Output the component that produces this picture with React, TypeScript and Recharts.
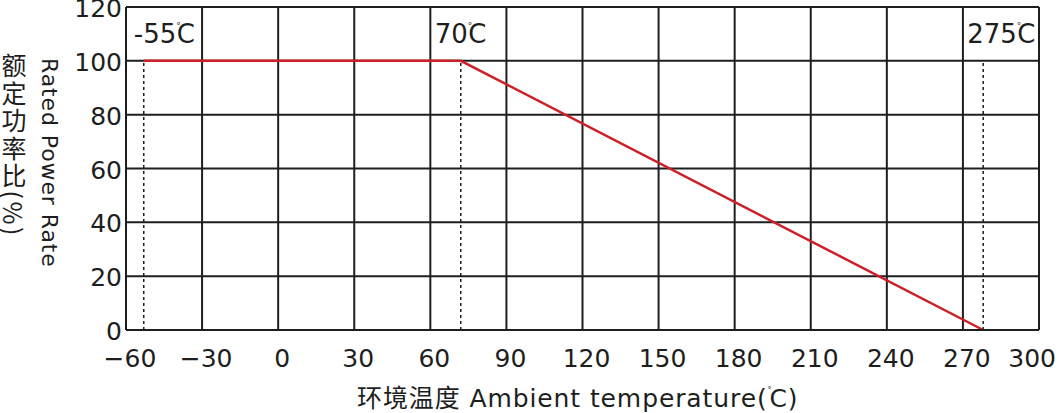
import React from 'react';
import {CartesianGrid, Line, LineChart, ReferenceLine, XAxis, YAxis} from 'recharts';

// derating curve
const curveTemps = [-53, 72, 278];
const curvePower = [100, 100, 0];

// dashed markers and their captions
const markerTemps = [-53, 72, 278];
const markerTexts = ['-55', '70', '275'];

const xTicks = [-60, -30, 0, 30, 60, 90, 120, 150, 180, 210, 240, 270, 300];
const yTicks = [0, 20, 40, 60, 80, 100, 120];

const data = curveTemps.map((t, i) => ({temp: t, power: curvePower[i]}));

const W = 1059;
const H = 413;
const FONT = '"DejaVu Sans", "Noto Sans CJK SC", sans-serif';
const INK = '#1e1e1e';

function XTick(props: any) {
  const {x, y, payload} = props;
  const v = payload.value as number;
  const txt = v < 0 ? '\u2212' + Math.abs(v) : String(v);
  // keep the last label inside the picture, like the original
  const halfWidth = txt.length * 8;
  const overflow = x + 4 + halfWidth > W - 2;
  return (
    <text
      x={overflow ? W - 3 : x + 4}
      y={y + 37}
      textAnchor={overflow ? 'end' : 'middle'}
      fontFamily={FONT}
      fontSize={25}
      fill={INK}
    >
      {txt}
    </text>
  );
}

function YTick(props: any) {
  const {x, y, payload} = props;
  return (
    <text x={x} y={y + 10} textAnchor="end" fontFamily={FONT} fontSize={25} fill={INK}>
      {payload.value}
    </text>
  );
}

function MarkerLabel(props: any) {
  const {viewBox, text, dx} = props;
  const x = (viewBox?.x ?? 0) + dx;
  return (
    <text x={x} y={43} textAnchor="start" fontFamily={FONT} fontSize={26} fill={INK}>
      {text}
      <tspan fontSize={9} dy={-14}>°</tspan>
      <tspan dx={-4} dy={14}>C</tspan>
    </text>
  );
}

const labelShift = [-10, -26, -16];

function Titles() {
  return (
    <svg width={W} height={H} style={{position: 'absolute', left: 0, top: 0, pointerEvents: 'none'}}>
      <text
        x={14}
        y={53}
        fontFamily='"Noto Sans CJK SC", sans-serif'
        fontSize={25}
        letterSpacing={2.5}
        fill={INK}
        style={{writingMode: 'vertical-rl'}}
      >
        额定功率比(%)
      </text>
      <text transform="translate(42,58) rotate(90)" fontFamily={FONT} fontSize={22} letterSpacing={0.9} fill={INK}>
        Rated Power Rate
      </text>
      <text x={357} y={407} fontFamily={FONT} fontSize={25} letterSpacing={0.9} fill={INK}>
        环境温度 Ambient temperature(
        <tspan fontSize={8} dy={-14}>°</tspan>
        <tspan dx={-3} dy={14}>C)</tspan>
      </text>
    </svg>
  );
}

export default function App() {
  return (
    <div style={{position: 'absolute', left: 0, top: 0, width: W, height: H, background: '#fff'}}>
      <LineChart width={W} height={H} data={data} margin={{top: 7, right: 20, bottom: 43, left: 66}}>
        <CartesianGrid stroke={INK} strokeWidth={2} />
        <XAxis
          type="number"
          dataKey="temp"
          domain={[-60, 300]}
          ticks={xTicks}
          interval={0}
          height={40}
          tickSize={0}
          tickMargin={0}
          axisLine={{stroke: INK, strokeWidth: 2}}
          tickLine={false}
          tick={<XTick />}
        />
        <YAxis
          type="number"
          domain={[0, 120]}
          ticks={yTicks}
          interval={0}
          width={60}
          tickSize={0}
          tickMargin={4}
          axisLine={{stroke: INK, strokeWidth: 2}}
          tickLine={false}
          tick={<YTick />}
        />
        {markerTemps.map((t, i) => (
          <ReferenceLine
            key={t}
            segment={[{x: t, y: 0}, {x: t, y: 100}]}
            stroke={INK}
            strokeWidth={1.5}
            strokeDasharray="3 3"
            label={<MarkerLabel text={markerTexts[i]} dx={labelShift[i]} />}
          />
        ))}
        <Line
          type="linear"
          dataKey="power"
          stroke="#cc1f27"
          strokeWidth={2.5}
          dot={false}
          activeDot={false}
          isAnimationActive={false}
        />
      </LineChart>
      <Titles />
    </div>
  );
}
